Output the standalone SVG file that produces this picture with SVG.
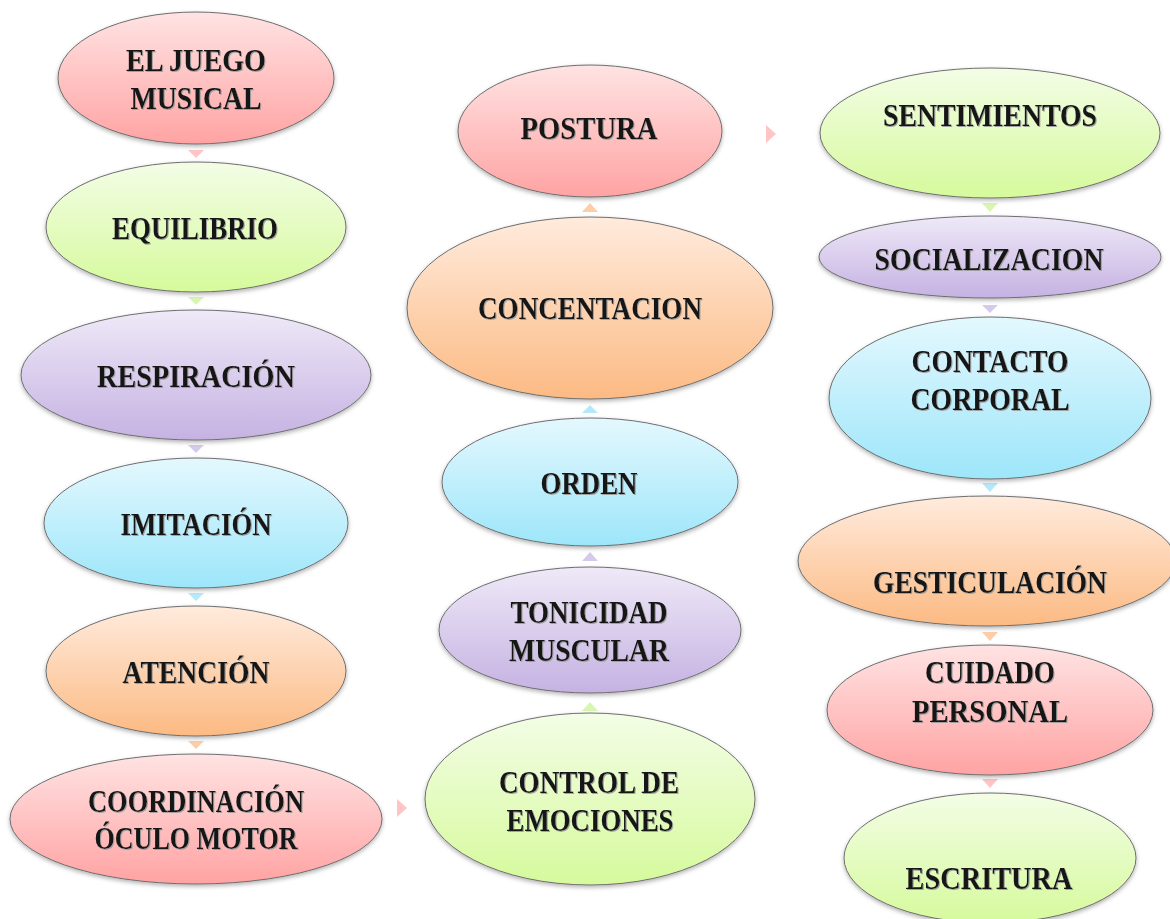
<svg xmlns="http://www.w3.org/2000/svg" width="1170" height="919" viewBox="0 0 1170 919">
<defs>
<linearGradient id="gPink" x1="0" y1="0" x2="0" y2="1"><stop offset="0" stop-color="#ffe3e3"/><stop offset="1" stop-color="#ffa3a3"/></linearGradient>
<linearGradient id="gGreen" x1="0" y1="0" x2="0" y2="1"><stop offset="0" stop-color="#f3fde6"/><stop offset="1" stop-color="#d6fa9c"/></linearGradient>
<linearGradient id="gPurple" x1="0" y1="0" x2="0" y2="1"><stop offset="0" stop-color="#efe9f8"/><stop offset="1" stop-color="#c5b2e2"/></linearGradient>
<linearGradient id="gBlue" x1="0" y1="0" x2="0" y2="1"><stop offset="0" stop-color="#e4f8fe"/><stop offset="1" stop-color="#9de6fa"/></linearGradient>
<linearGradient id="gOrange" x1="0" y1="0" x2="0" y2="1"><stop offset="0" stop-color="#ffebdd"/><stop offset="1" stop-color="#fcba83"/></linearGradient>
<filter id="sh" x="-10%" y="-10%" width="120%" height="130%"><feDropShadow dx="0" dy="2" stdDeviation="2" flood-color="#000" flood-opacity="0.3"/></filter>
<filter id="tsh" x="-5%" y="-20%" width="110%" height="140%"><feDropShadow dx="1" dy="1" stdDeviation="0.4" flood-color="#9a9a9a" flood-opacity="0.9"/></filter>
</defs>
<style>
ellipse{stroke:#6e6e6e;stroke-width:1;filter:url(#sh)}
.pk{fill:url(#gPink)}.gr{fill:url(#gGreen)}.pu{fill:url(#gPurple)}.bl{fill:url(#gBlue)}.or{fill:url(#gOrange)}
text{font-family:"Liberation Serif","DejaVu Serif",serif;font-weight:bold;font-size:32px;fill:#141414;text-anchor:middle;filter:url(#tsh)}
.c polygon{opacity:0.9}
.apk{fill:#ffbfbf}.agr{fill:#d3f5a6}.apu{fill:#d2c4ea}.abl{fill:#ade6f7}.aor{fill:#fcc8a0}
</style>
<rect width="1170" height="919" fill="#ffffff"/>
<g id="connectors" class="c">
<polygon class="apk" points="188,150 204,150 196,158"/>
<polygon class="agr" points="188,297 204,297 196,305"/>
<polygon class="apu" points="188,445 204,445 196,453"/>
<polygon class="abl" points="188,593 204,593 196,601"/>
<polygon class="aor" points="188,741 204,741 196,749"/>
<polygon class="apk" points="397,799 407,808 397,817"/>
<polygon class="agr" points="582,711 598,711 590,702"/>
<polygon class="apu" points="582,561 598,561 590,552"/>
<polygon class="abl" points="582,413 598,413 590,405"/>
<polygon class="aor" points="582,212 598,212 590,203"/>
<polygon class="apk" points="766,125 776,134 766,143"/>
<polygon class="agr" points="982,203 998,203 990,212"/>
<polygon class="apu" points="982,305 998,305 990,313"/>
<polygon class="abl" points="982,483 998,483 990,492"/>
<polygon class="aor" points="982,632 998,632 990,641"/>
<polygon class="apk" points="982,779 998,779 990,788"/>
</g>
<g id="n1"><ellipse class="pk" cx="196" cy="78" rx="138" ry="66"/><text x="196" y="71" textLength="140" lengthAdjust="spacingAndGlyphs">EL JUEGO</text><text x="196" y="109" textLength="131" lengthAdjust="spacingAndGlyphs">MUSICAL</text></g>
<g id="n2"><ellipse class="gr" cx="196" cy="227" rx="150" ry="65"/><text x="195" y="239" textLength="166" lengthAdjust="spacingAndGlyphs">EQUILIBRIO</text></g>
<g id="n3"><ellipse class="pu" cx="196" cy="375" rx="175" ry="65"/><text x="196" y="387" textLength="198" lengthAdjust="spacingAndGlyphs">RESPIRACIÓN</text></g>
<g id="n4"><ellipse class="bl" cx="196" cy="523" rx="152" ry="65"/><text x="196" y="535" textLength="151" lengthAdjust="spacingAndGlyphs">IMITACIÓN</text></g>
<g id="n5"><ellipse class="or" cx="196" cy="671" rx="150" ry="65"/><text x="196" y="683" textLength="147" lengthAdjust="spacingAndGlyphs">ATENCIÓN</text></g>
<g id="n6"><ellipse class="pk" cx="196" cy="819" rx="186" ry="65"/><text x="196" y="812" textLength="216" lengthAdjust="spacingAndGlyphs">COORDINACIÓN</text><text x="196" y="849" textLength="203" lengthAdjust="spacingAndGlyphs">ÓCULO MOTOR</text></g>
<g id="n7"><ellipse class="gr" cx="590" cy="799" rx="165" ry="86"/><text x="589" y="793" textLength="180" lengthAdjust="spacingAndGlyphs">CONTROL DE</text><text x="590" y="831" textLength="167" lengthAdjust="spacingAndGlyphs">EMOCIONES</text></g>
<g id="n8"><ellipse class="pu" cx="590" cy="630" rx="151" ry="63"/><text x="589" y="623" textLength="157" lengthAdjust="spacingAndGlyphs">TONICIDAD</text><text x="589" y="661" textLength="160" lengthAdjust="spacingAndGlyphs">MUSCULAR</text></g>
<g id="n9"><ellipse class="bl" cx="590" cy="482" rx="148" ry="64"/><text x="589" y="494" textLength="97" lengthAdjust="spacingAndGlyphs">ORDEN</text></g>
<g id="n10"><ellipse class="or" cx="590" cy="308" rx="183" ry="91"/><text x="590" y="319" textLength="224" lengthAdjust="spacingAndGlyphs">CONCENTACION</text></g>
<g id="n11"><ellipse class="pk" cx="590" cy="131" rx="132" ry="66"/><text x="589" y="139" textLength="137" lengthAdjust="spacingAndGlyphs">POSTURA</text></g>
<g id="n12"><ellipse class="gr" cx="990" cy="133" rx="170" ry="65"/><text x="990" y="126" textLength="214" lengthAdjust="spacingAndGlyphs">SENTIMIENTOS</text></g>
<g id="n13"><ellipse class="pu" cx="990" cy="257" rx="171" ry="41"/><text x="989" y="270" textLength="229" lengthAdjust="spacingAndGlyphs">SOCIALIZACION</text></g>
<g id="n14"><ellipse class="bl" cx="990" cy="398" rx="161" ry="81"/><text x="990" y="372" textLength="157" lengthAdjust="spacingAndGlyphs">CONTACTO</text><text x="990" y="410" textLength="159" lengthAdjust="spacingAndGlyphs">CORPORAL</text></g>
<g id="n15"><ellipse class="or" cx="987" cy="561" rx="189" ry="65"/><text x="990" y="593" textLength="234" lengthAdjust="spacingAndGlyphs">GESTICULACIÓN</text></g>
<g id="n16"><ellipse class="pk" cx="990" cy="710" rx="163" ry="65"/><text x="990" y="683" textLength="130" lengthAdjust="spacingAndGlyphs">CUIDADO</text><text x="990" y="722" textLength="156" lengthAdjust="spacingAndGlyphs">PERSONAL</text></g>
<g id="n17"><ellipse class="gr" cx="990" cy="858" rx="146" ry="65"/><text x="989" y="889" textLength="167" lengthAdjust="spacingAndGlyphs">ESCRITURA</text></g>
</svg>
